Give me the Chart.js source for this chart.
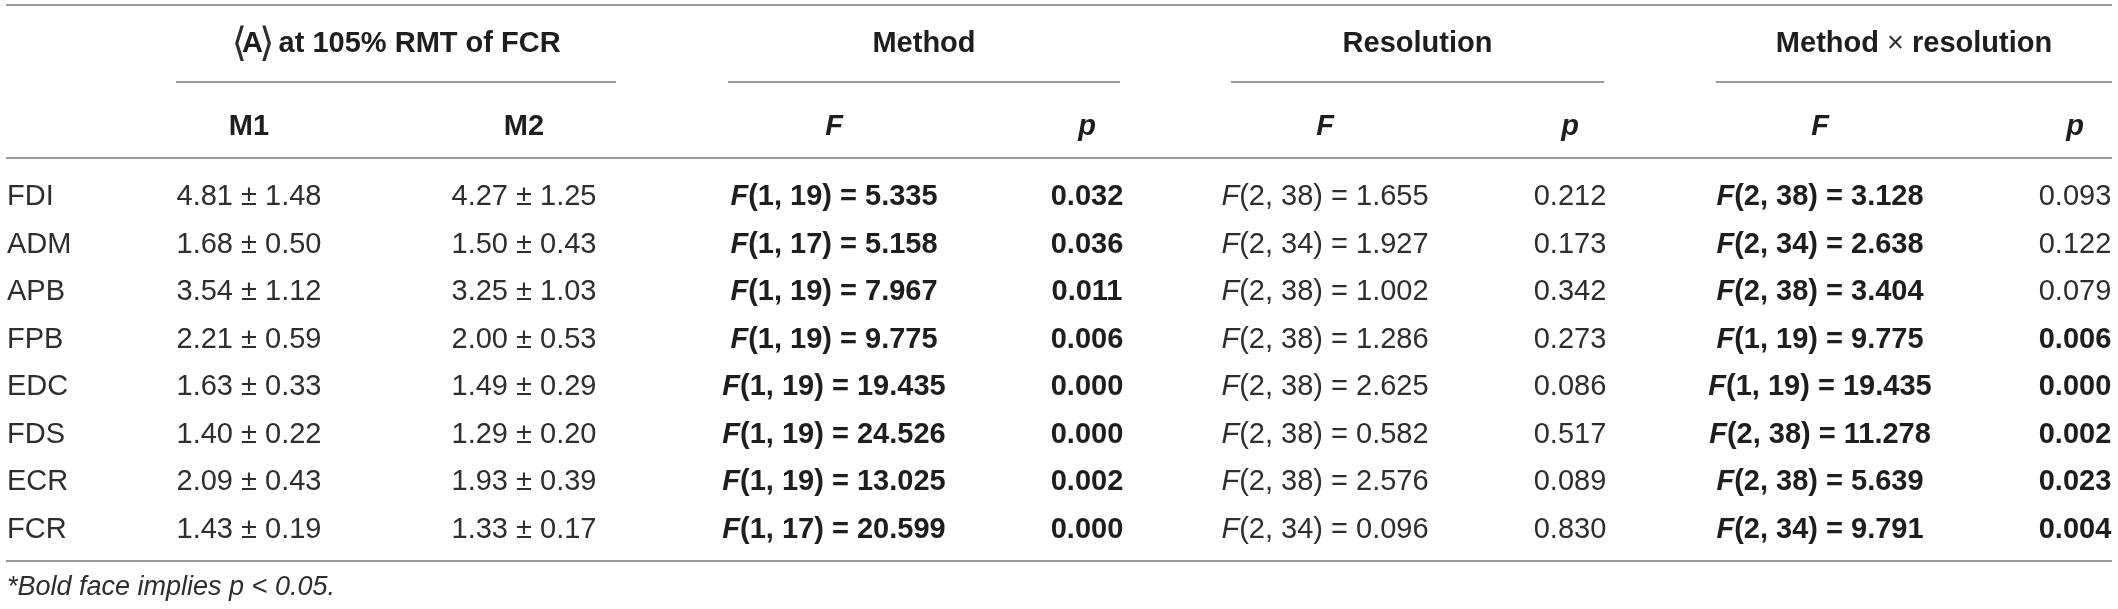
<!DOCTYPE html>
<html>
<head>
<meta charset="utf-8">
<script src="https://cdn.jsdelivr.net/npm/chart.js@4.4.1/dist/chart.umd.min.js"></script>
<style>
  html, body { margin: 0; padding: 0; background: #fff; }
  #wrap { width: 2118px; height: 609px; }
</style>
</head>
<body>
<div id="wrap"><canvas id="tableChart" width="2118" height="609"></canvas></div>
<script>
// table values
const muscles = ["FDI", "ADM", "APB", "FPB", "EDC", "FDS", "ECR", "FCR"];
const m1Mean = [4.81, 1.68, 3.54, 2.21, 1.63, 1.40, 2.09, 1.43];
const m1Sd = [1.48, 0.50, 1.12, 0.59, 0.33, 0.22, 0.43, 0.19];
const m2Mean = [4.27, 1.50, 3.25, 2.00, 1.49, 1.29, 1.93, 1.33];
const m2Sd = [1.25, 0.43, 1.03, 0.53, 0.29, 0.20, 0.39, 0.17];
const methodDf = ["1, 19", "1, 17", "1, 19", "1, 19", "1, 19", "1, 19", "1, 19", "1, 17"];
const methodF = [5.335, 5.158, 7.967, 9.775, 19.435, 24.526, 13.025, 20.599];
const methodP = [0.032, 0.036, 0.011, 0.006, 0.000, 0.000, 0.002, 0.000];
const resDf = ["2, 38", "2, 34", "2, 38", "2, 38", "2, 38", "2, 38", "2, 38", "2, 34"];
const resF = [1.655, 1.927, 1.002, 1.286, 2.625, 0.582, 2.576, 0.096];
const resP = [0.212, 0.173, 0.342, 0.273, 0.086, 0.517, 0.089, 0.830];
const intDf = ["2, 38", "2, 34", "2, 38", "1, 19", "1, 19", "2, 38", "2, 38", "2, 34"];
const intF = [3.128, 2.638, 3.404, 9.775, 19.435, 11.278, 5.639, 9.791];
const intP = [0.093, 0.122, 0.079, 0.006, 0.000, 0.002, 0.023, 0.004];
const groupTitles = ["A", "Method", "Resolution", "Method \u00D7 resolution"];
const subTitles = ["M1", "M2", "F", "p", "F", "p", "F", "p"];

// layout (pixel units of the scales)
const W = 2118, H = 609;
const FONT = "'Liberation Sans', Arial, sans-serif";
const SIZE = 29;
const INK = "#1e1e1e";
const LIGHT_INK = "#2e2e2e";
const RULE = "#9a9a9a";
const yGroup = 42, yGroupRule = 82, ySub = 125, yHeadRule = 158, yRow0 = 195, rowGap = 47.5;
const yBottomRule = 561, yNote = 585;
const xLabel = 7, xRule0 = 6, xRule1 = 2112;
const colCenters = [249, 524, 834, 1087, 1325, 1570, 1820, 2075];
const groupSpans = [[176, 616], [728, 1120], [1231, 1604], [1716, 2112]];

const rowY = i => yRow0 + rowGap * i;
const seg = (t, bold, italic, size, kern) => ({ t, bold: !!bold, italic: !!italic, size, kern: kern || 0 });
const fCell = (df, f, bold) => [seg("F", bold, true), seg("(" + df + ") = " + f.toFixed(3), bold)];
const pCell = p => [seg(p.toFixed(3), p < 0.05)];
const pm = (a, b) => [seg(a.toFixed(2) + " \u00B1 " + b.toFixed(2))];

// each text column is a dataset of invisible points; the plugin writes the cells at them
function textSet(x, cells, align) {
  return {
    type: "scatter",
    data: cells.map((c, i) => ({ x: x, y: rowY(i) })),
    cells: cells,
    align: align || "center",
    pointRadius: 0,
    showLine: false
  };
}

const textSets = [
  textSet(xLabel, muscles.map(m => [seg(m)]), "left"),
  textSet(colCenters[0], m1Mean.map((v, i) => pm(v, m1Sd[i]))),
  textSet(colCenters[1], m2Mean.map((v, i) => pm(v, m2Sd[i]))),
  textSet(colCenters[2], methodF.map((v, i) => fCell(methodDf[i], v, true))),
  textSet(colCenters[3], methodP.map(pCell)),
  textSet(colCenters[4], resF.map((v, i) => fCell(resDf[i], v, false))),
  textSet(colCenters[5], resP.map(pCell)),
  textSet(colCenters[6], intF.map((v, i) => fCell(intDf[i], v, true))),
  textSet(colCenters[7], intP.map(pCell))
];

// header cells
const headSet = {
  type: "scatter",
  data: [],
  cells: [],
  align: "center",
  pointRadius: 0,
  showLine: false
};
groupSpans.forEach((s, g) => {
  headSet.data.push({ x: (s[0] + s[1]) / 2, y: yGroup });
  if (g === 0) {
    headSet.cells.push([
      seg("\u27E8", false, false, 40, -5), seg(groupTitles[0], true, false, undefined, -4),
      seg("\u27E9", false, false, 40, -4), seg(" at 105% RMT of FCR", true)
    ]);
  } else if (g === 3) {
    headSet.cells.push([seg("Method ", true), seg("\u00D7", false), seg(" resolution", true)]);
  } else {
    headSet.cells.push([seg(groupTitles[g], true)]);
  }
});
subTitles.forEach((t, i) => {
  headSet.data.push({ x: colCenters[i], y: ySub });
  headSet.cells.push([seg(t, true, i > 1)]);
});

const noteSet = {
  type: "scatter",
  data: [{ x: xLabel, y: yNote }],
  cells: [[seg("*Bold face implies p < 0.05.", false, true)]],
  align: "left",
  size: 27,
  pointRadius: 0,
  showLine: false
};

// horizontal rules as line datasets
function rule(x0, x1, y) {
  return {
    type: "scatter",
    data: [{ x: x0, y: y }, { x: x1, y: y }],
    showLine: true,
    borderColor: RULE,
    borderWidth: 2,
    pointRadius: 0,
    clip: false
  };
}
const rules = [rule(xRule0, xRule1, 5), rule(xRule0, xRule1, yHeadRule), rule(xRule0, xRule1, yBottomRule)];
groupSpans.forEach(s => rules.push(rule(s[0], s[1], yGroupRule)));

function fontFor(s, size) {
  const fam = s.size ? "'DejaVu Sans', " + FONT : FONT;
  return (s.italic ? "italic " : "") + (s.bold ? "bold " : "") + (s.size || size) + "px " + fam;
}

const cellText = {
  id: "cellText",
  afterDatasetsDraw(chart) {
    const ctx = chart.ctx;
    ctx.save();
    ctx.textBaseline = "alphabetic";
    ctx.textAlign = "left";
    chart.data.datasets.forEach((ds, di) => {
      if (!ds.cells) return;
      const size = ds.size || SIZE;
      const meta = chart.getDatasetMeta(di);
      meta.data.forEach((pt, j) => {
        const parts = ds.cells[j];
        let total = 0;
        parts.forEach(p => { ctx.font = fontFor(p, size); total += ctx.measureText(p.t).width + p.kern; });
        let x = ds.align === "left" ? pt.x : pt.x - total / 2;
        // baseline so that capitals sit centred on the point
        const base = pt.y + size * 0.36;
        parts.forEach(p => {
          ctx.font = fontFor(p, size);
          ctx.fillStyle = p.bold ? INK : LIGHT_INK;
          const yb = p.size ? base + p.size * 0.1 : base;
          ctx.fillText(p.t, x, yb);
          x += ctx.measureText(p.t).width + p.kern;
        });
      });
    });
    ctx.restore();
  }
};

new Chart(document.getElementById("tableChart"), {
  type: "scatter",
  data: { datasets: rules.concat([headSet], textSets, [noteSet]) },
  options: {
    responsive: false,
    animation: false,
    layout: { padding: 0 },
    plugins: { legend: { display: false }, tooltip: { enabled: false } },
    scales: {
      x: { type: "linear", min: 0, max: W, display: false },
      y: { type: "linear", min: 0, max: H, reverse: true, display: false }
    }
  },
  plugins: [cellText]
});
</script>
</body>
</html>
